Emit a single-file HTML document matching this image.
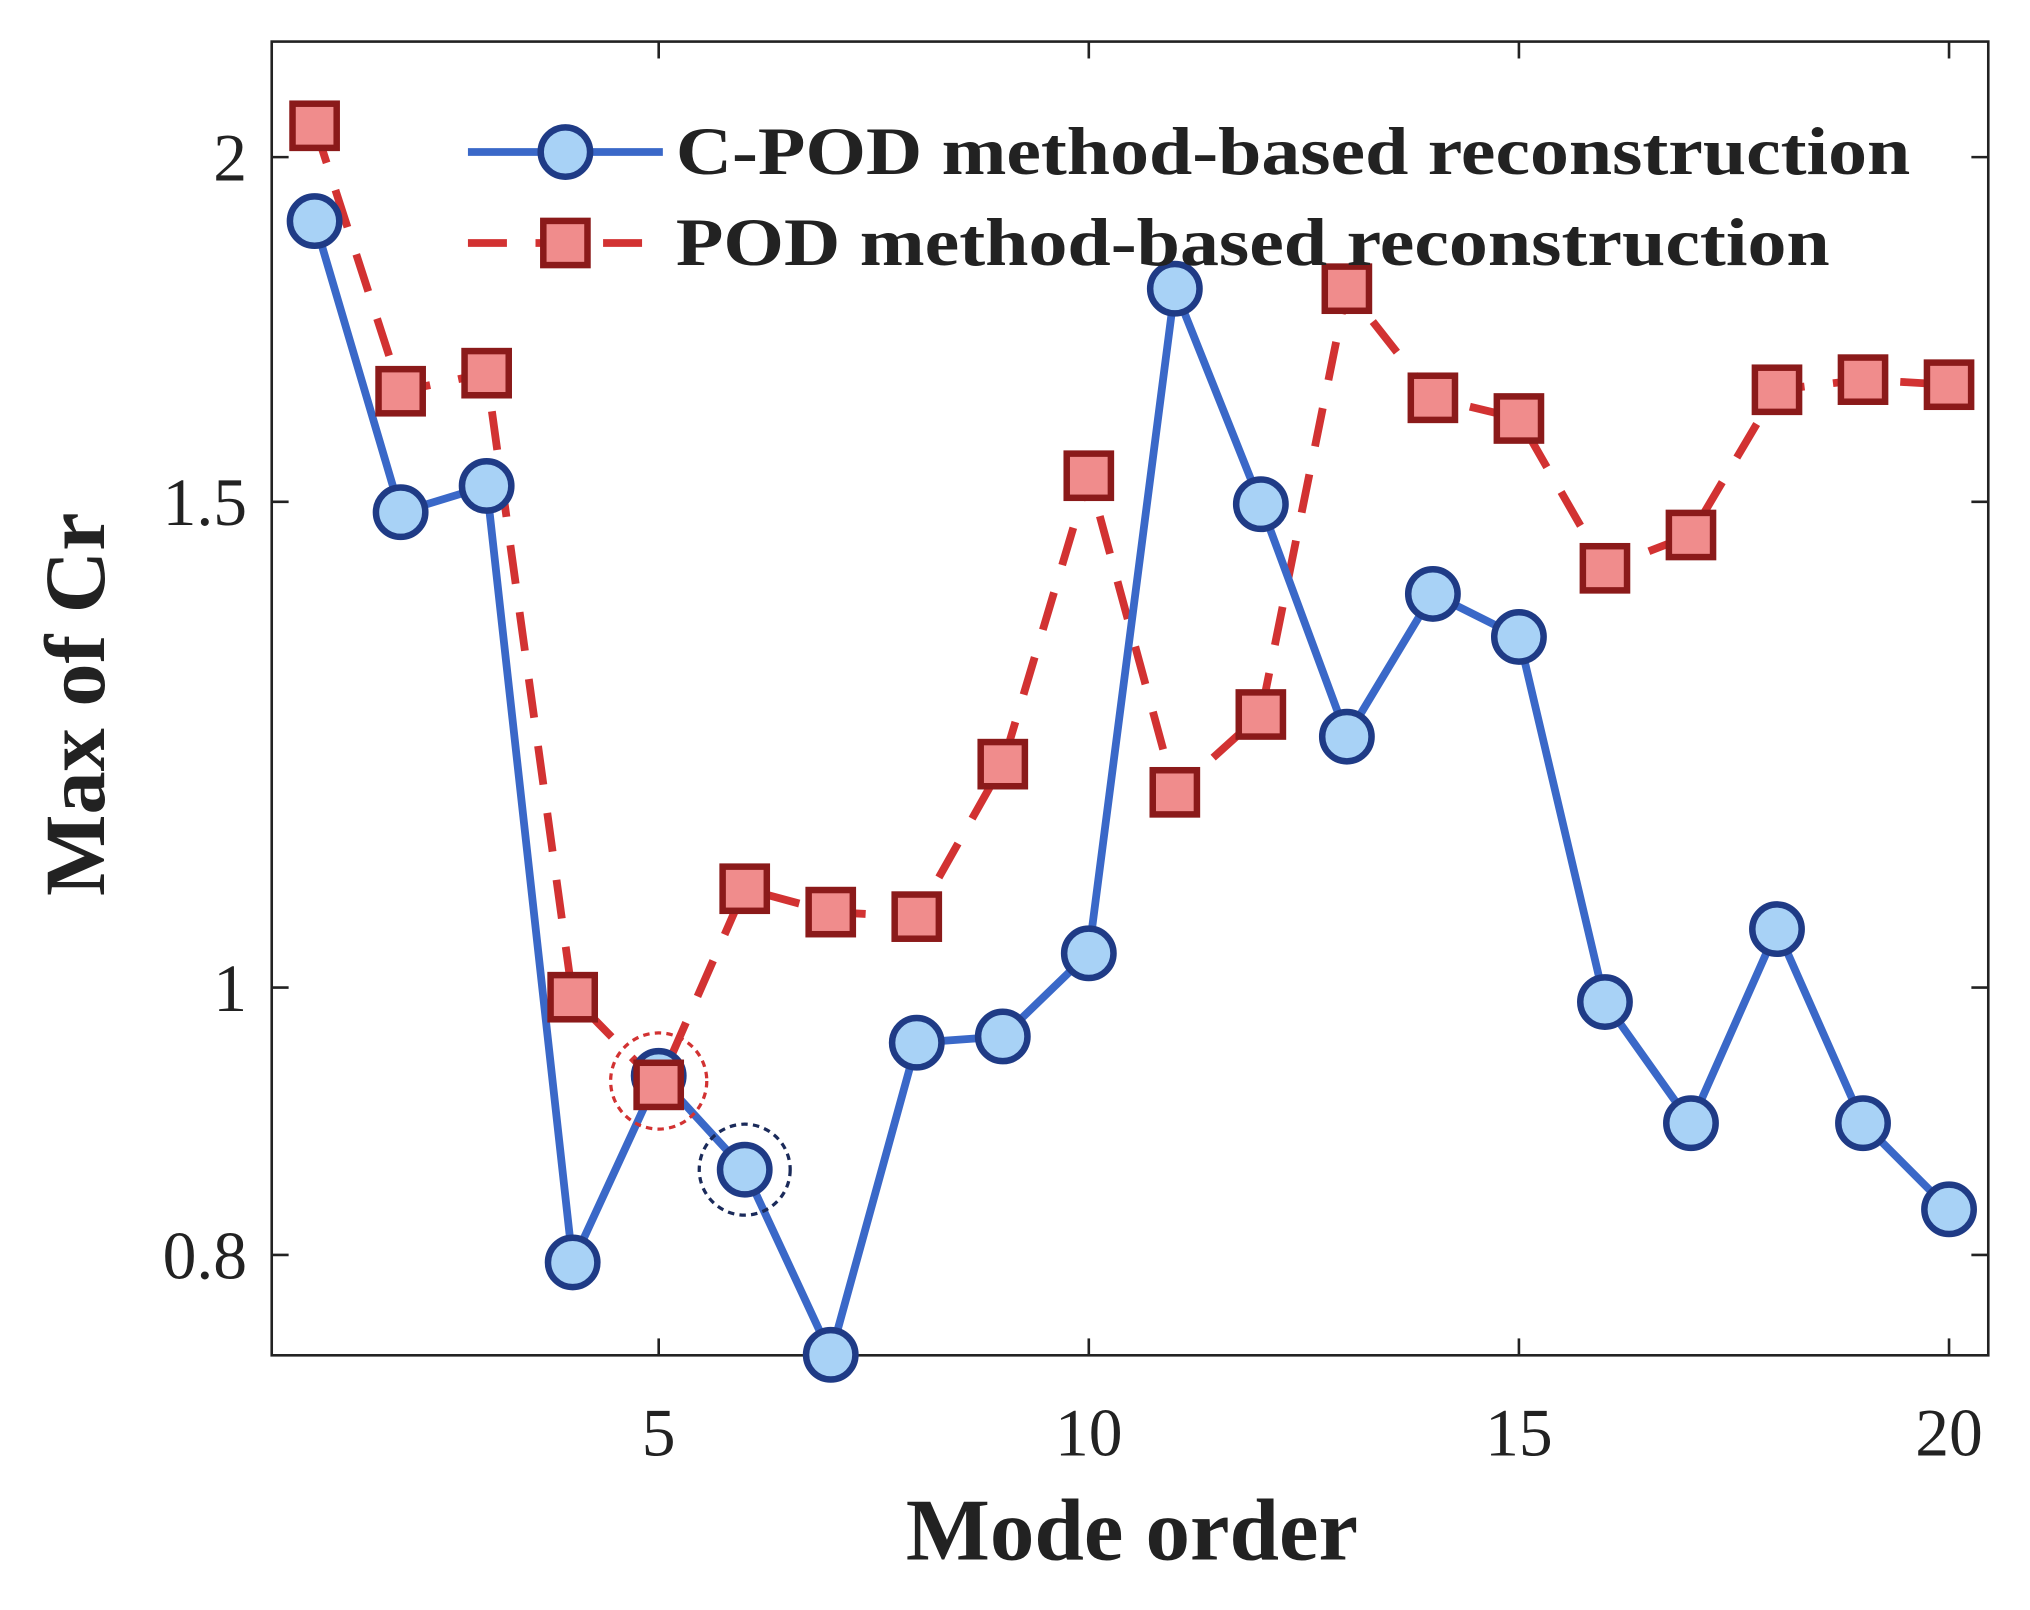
<!DOCTYPE html>
<html><head><meta charset="utf-8"><style>
html,body{margin:0;padding:0;background:#fff;}
svg{display:block;font-family:"Liberation Serif",serif;}
</style></head><body>
<svg id="chart" width="2030" height="1610" viewBox="0 0 1562 1239" xmlns="http://www.w3.org/2000/svg">
<rect x="209" y="32" width="1321" height="1011" fill="#fff" stroke="#222" stroke-width="2"/>
<g id="axes"></g>
<g id="series"></g>
<text x="871" y="1200" text-anchor="middle" font-size="68" font-weight="bold" fill="#222" textLength="348" lengthAdjust="spacingAndGlyphs">Mode order</text>
<text transform="translate(80,542) rotate(-90)" text-anchor="middle" font-size="66" font-weight="bold" fill="#222" textLength="295" lengthAdjust="spacingAndGlyphs">Max of Cr</text>
<g>
<line x1="360" y1="117" x2="510" y2="117" stroke="#3a68c8" stroke-width="6"/>
<circle cx="435" cy="117" r="19" fill="#a8d2f6" stroke="#1f3b86" stroke-width="5"/>
<text x="520" y="134" font-size="52" font-weight="bold" fill="#222" textLength="950" lengthAdjust="spacingAndGlyphs">C-POD method-based reconstruction</text>
<line x1="360" y1="187" x2="510" y2="187" stroke="#d23232" stroke-width="6" stroke-dasharray="30,22"/>
<rect x="418" y="170" width="34" height="34" fill="#f08c8c" stroke="#8b1a1a" stroke-width="5"/>
<text x="520" y="204" font-size="52" font-weight="bold" fill="#222" textLength="888" lengthAdjust="spacingAndGlyphs">POD method-based reconstruction</text>
</g>
</svg>
<script>
const modes=[1,2,3,4,5,6,7,8,9,10,11,12,13,14,15,16,17,18,19,20];
const cpodValues=[1.896,1.487,1.52,0.795,0.929,0.859,0.736,0.955,0.96,1.029,1.792,1.497,1.233,1.389,1.340,0.988,0.893,1.05,0.893,0.831];
const podValues=[2.053,1.645,1.67,0.992,0.922,1.086,1.065,1.061,1.205,1.533,1.177,1.256,1.792,1.636,1.608,1.419,1.459,1.647,1.661,1.654];
const xTicks=[5,10,15,20];
const yTicks=[0.8,1,1.5,2];
const yTickLabels=["0.8","1","1.5","2"];
const NS="http://www.w3.org/2000/svg";
function xs(v){return 242+(v-1)*66.2;}
function ys(v){return 760-Math.log(v)*922;}
function mk(tag,attrs,parent){const e=document.createElementNS(NS,tag);for(const k in attrs)e.setAttribute(k,attrs[k]);parent.appendChild(e);return e;}
const axes=document.getElementById('axes');
xTicks.forEach(t=>{
  const x=xs(t);
  const l=mk('line',{x1:x,y1:1043,x2:x,y2:1030,stroke:'#222','stroke-width':2},axes);
  
  
  const l2=mk('line',{x1:x,y1:32,x2:x,y2:45,stroke:'#222','stroke-width':2},axes);
  
  
  const tx=mk('text',{x:x,y:1120,'text-anchor':'middle','font-size':52,fill:'#222'},axes);
  tx.textContent=t;
  
  
});
yTicks.forEach((t,i)=>{
  const y=ys(t);
  const l=mk('line',{x1:209,y1:y,x2:222,y2:y,stroke:'#222','stroke-width':2},axes);
  
  
  const l2=mk('line',{x1:1530,y1:y,x2:1517,y2:y,stroke:'#222','stroke-width':2},axes);
  
  
  const tx=mk('text',{x:190,y:y+18,'text-anchor':'end','font-size':52,fill:'#222'},axes);
  tx.textContent=yTickLabels[i];
  
  
});
const g=document.getElementById('series');
const podPts=modes.map((m,i)=>xs(m)+','+ys(podValues[i])).join(' ');
const cpodPts=modes.map((m,i)=>xs(m)+','+ys(cpodValues[i])).join(' ');
const pl1=mk('polyline',{points:podPts,fill:'none',stroke:'#d23232','stroke-width':6,'stroke-dasharray':'30,22'},g);


const pl2=mk('polyline',{points:cpodPts,fill:'none',stroke:'#3a68c8','stroke-width':6},g);


modes.forEach((m,i)=>{
  const c=mk('circle',{cx:xs(m),cy:ys(cpodValues[i]),r:19,fill:'#a8d2f6',stroke:'#1f3b86','stroke-width':5},g);
  
  
});
modes.forEach((m,i)=>{
  const r=mk('rect',{x:xs(m)-17,y:ys(podValues[i])-17,width:34,height:34,fill:'#f08c8c',stroke:'#8b1a1a','stroke-width':5},g);
  
  
});
const h1=mk('circle',{cx:xs(5),cy:ys(cpodValues[4])+4,r:37,fill:'none',stroke:'#d23232','stroke-width':2.5,'stroke-dasharray':'5,4'},g);


const h2=mk('circle',{cx:xs(6),cy:ys(cpodValues[5]),r:35,fill:'none',stroke:'#1a2a5a','stroke-width':2.5,'stroke-dasharray':'5,4'},g);


</script>
</body></html>
